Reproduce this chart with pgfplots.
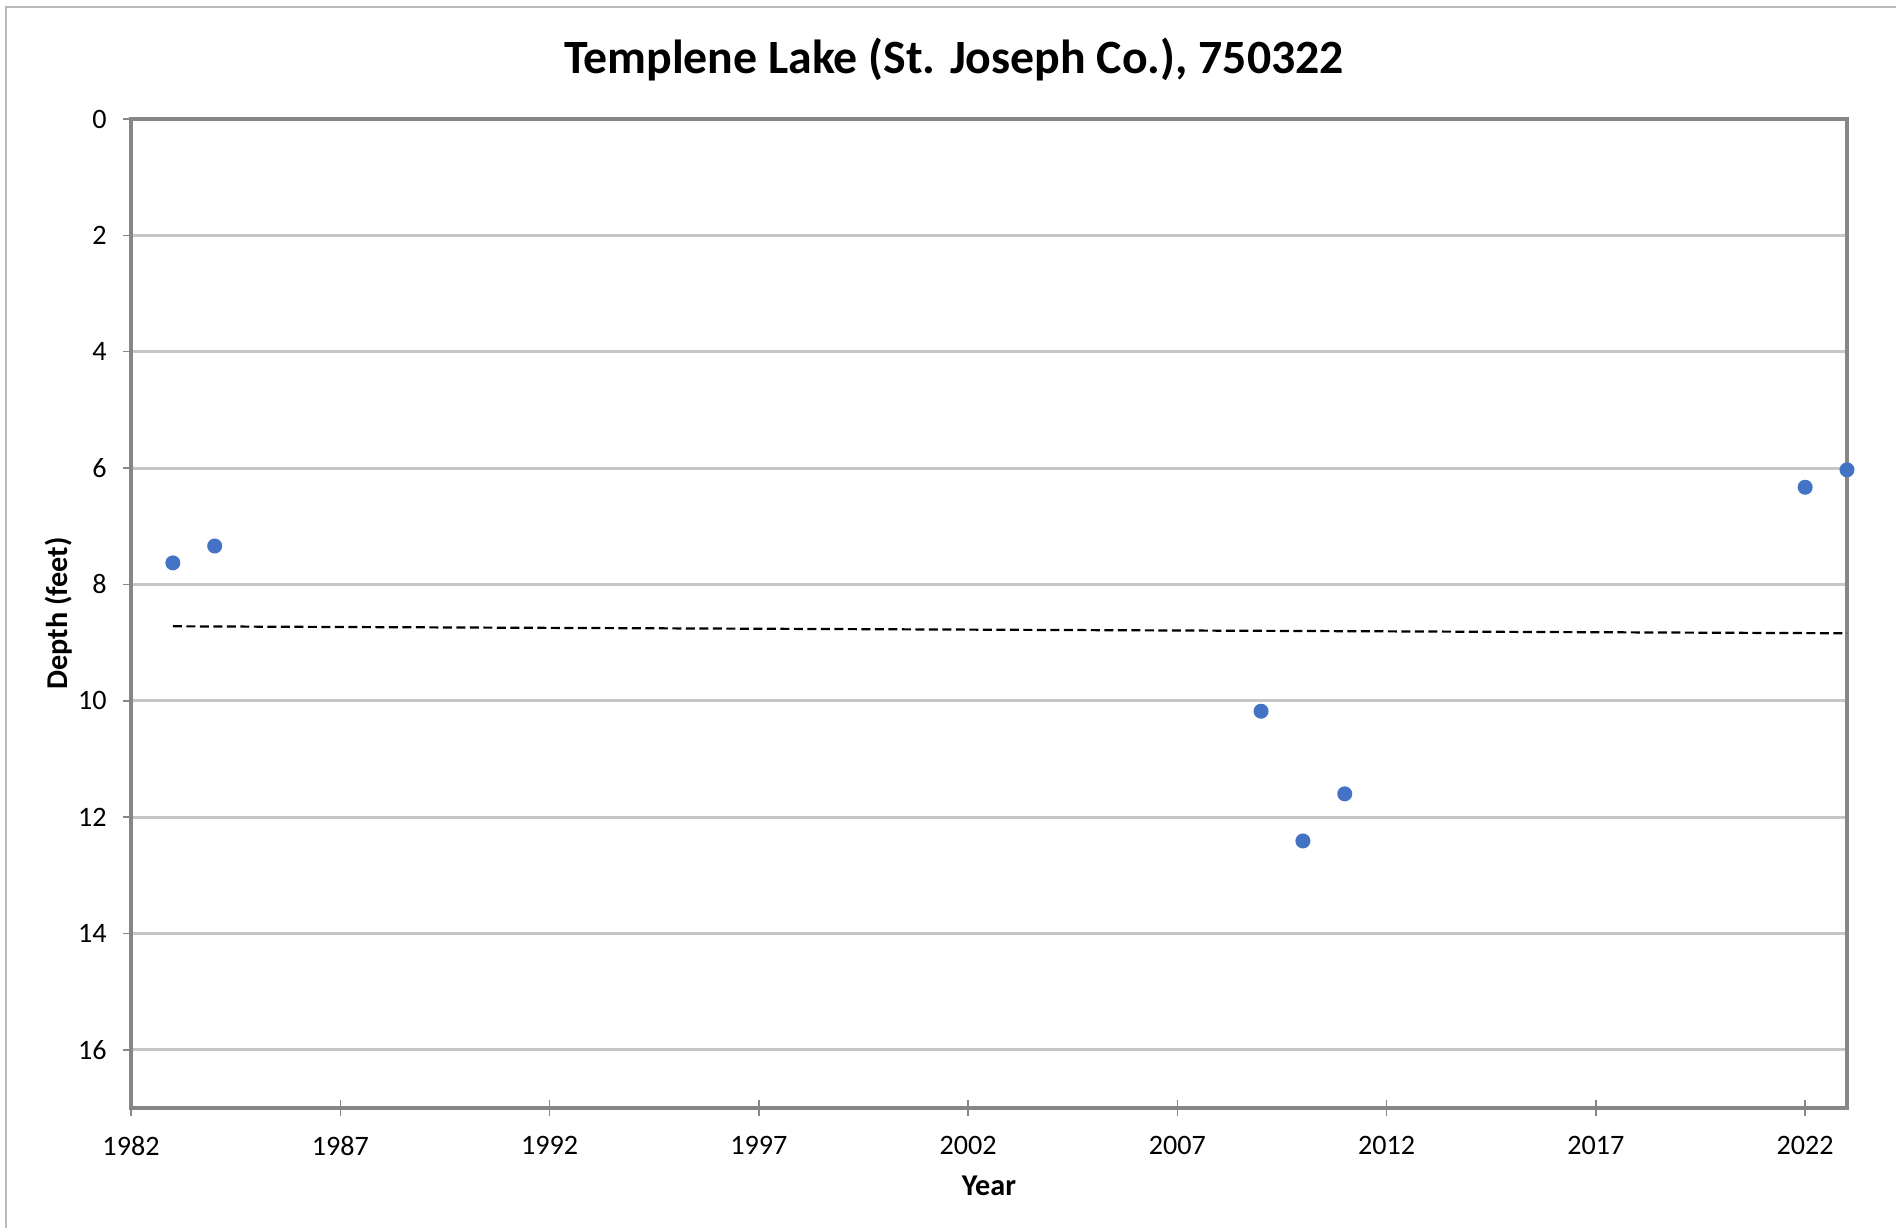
\documentclass[border=0pt]{standalone}
\usepackage{pgfplots}
\pgfplotsset{compat=1.18}
\usepackage{fontspec}
\setmainfont{Carlito}
\definecolor{ptblue}{HTML}{4472C4}
\definecolor{axgray}{HTML}{868686}
\definecolor{grdgray}{HTML}{C6C6C6}
\begin{document}
\begin{tikzpicture}
\path[use as bounding box] (0,0) rectangle (189.6mm,-122.8mm);
\draw[gray!55, line width=0.15mm] (0.6mm,-122.8mm) -- (0.6mm,-0.7mm) -- (189.6mm,-0.7mm);
\node[font=\fontsize{13.6}{16}\selectfont\bfseries] at (95.4mm,-6.0mm) {Templene Lake (St. Joseph Co.), 750322};
\begin{axis}[
  at={(13.1mm,-11.9mm)}, anchor=north west,
  scale only axis, width=171.6mm, height=98.9mm,
  xmin=1982, xmax=2023, ymin=0, ymax=17,
  y dir=reverse,
  xtick={1982,1987,...,2022},
  ytick={0,2,...,16},
  /pgf/number format/1000 sep={},
  /pgf/number format/assume math mode=true,
  tick label style={font=\fontsize{8.0}{10}\selectfont},
  xticklabel style={yshift=-0.8mm},
  yticklabel style={xshift=0.3mm},
  axis line style={axgray, line width=0.4mm},
  ymajorgrids,
  major grid style={grdgray, line width=0.3mm},
  xtick style={axgray, line width=0.15mm},
  ytick style={axgray, line width=0.15mm},
  x tick style={/pgfplots/major tick length=1.6mm},
  y tick style={/pgfplots/major tick length=0.8mm},
  xtick align=center, ytick align=outside,
  xtick pos=bottom, ytick pos=left,
  xlabel={\textbf{Year}}, ylabel={\textbf{Depth (feet)}},
  label style={font=\fontsize{8.6}{10}\selectfont},
  xlabel style={yshift=0.4mm},
  ylabel style={yshift=-1.8mm},
  clip=false,
]
\addplot[only marks, mark=*, mark size=0.68mm, mark options={draw=ptblue, fill=ptblue}] coordinates {
  (1983,7.63) (1984,7.34) (2009,10.18) (2010,12.41) (2011,11.60) (2022,6.33) (2023,6.03)
};
\addplot[black, line width=0.22mm, dash pattern=on 0.9mm off 0.45mm] coordinates {
  (1983,8.72) (2023,8.84)
};
\end{axis}
\end{tikzpicture}
\end{document}
